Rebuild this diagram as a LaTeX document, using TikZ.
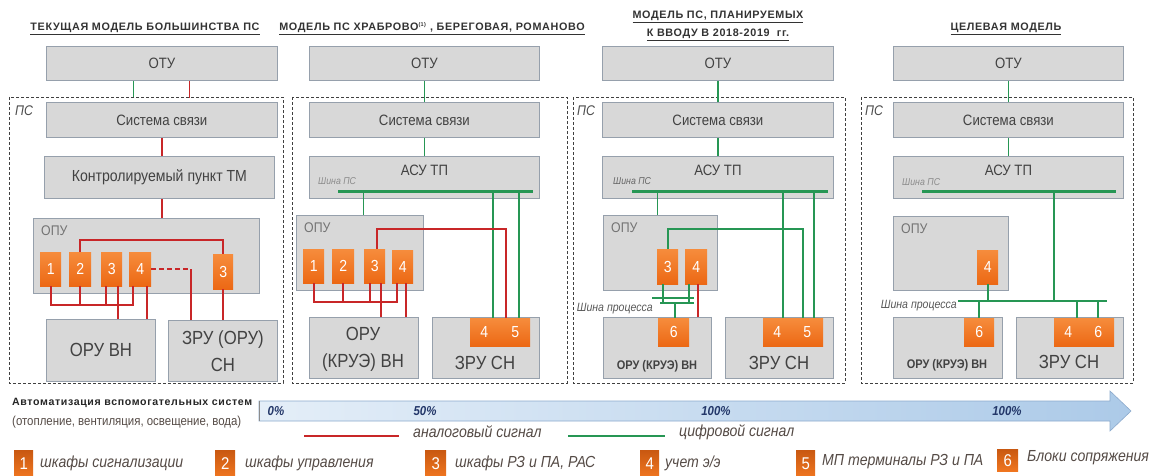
\documentclass[tikz,border=0pt]{standalone}
\usepackage{fontspec}
\setmainfont{Liberation Sans}
\newfontfamily\nar{Liberation Sans}[FakeStretch=0.88]
\newfontfamily\ttlf{Liberation Sans}[LetterSpace=6]
\definecolor{boxfill}{RGB}{216,216,216}
\definecolor{boxline}{RGB}{150,160,172}
\definecolor{txt}{RGB}{66,66,66}
\definecolor{org}{RGB}{240,118,32}
\definecolor{orgt}{RGB}{246,140,60}
\definecolor{orgb}{RGB}{236,104,20}
\definecolor{ana}{RGB}{200,38,40}
\definecolor{dig}{RGB}{38,150,84}
\definecolor{navy}{RGB}{35,55,105}
\definecolor{legtxt}{RGB}{85,75,70}
\definecolor{barL}{RGB}{228,238,248}
\definecolor{barR}{RGB}{172,202,232}
\definecolor{barD}{RGB}{140,170,205}
\begin{document}
\begin{tikzpicture}[x=1pt,y=-1pt,
  gbox/.style={draw=boxline, fill=boxfill, line width=0.8pt, inner sep=0pt, anchor=north west, text=txt, font=\nar\fontsize{15}{17}\selectfont},
  obox/.style={top color=orgt, bottom color=orgb, draw=none, inner sep=0pt, anchor=north west, text=white, font=\nar\fontsize{16}{16}\selectfont},
  anaw/.style={draw=ana, line width=1.8pt},
  digw/.style={draw=dig, line width=1.8pt},
  busw/.style={draw=dig, line width=3pt},
  frm/.style={draw=black!75, dash pattern=on 3pt off 2pt, line width=0.8pt},
  ttl/.style={font=\ttlf\bfseries\fontsize{10.8}{18}\selectfont, text=black!80, align=center},
  opul/.style={anchor=north west, text=black!55, font=\nar\fontsize{14}{14}\selectfont, inner sep=0pt},
  psl/.style={anchor=north west, text=black!70, font=\nar\itshape\fontsize{14}{14}\selectfont, inner sep=0pt},
  shl/.style={text=black!45, font=\nar\itshape\fontsize{10}{10}\selectfont, inner sep=0pt},
  shp/.style={text=black!65, font=\nar\itshape\fontsize{12}{12}\selectfont, inner sep=0pt},
  bigt/.style={text=txt, font=\nar\fontsize{19}{27}\selectfont, align=center, inner sep=0pt},
  smb/.style={text=txt, font=\nar\bfseries\fontsize{12.5}{13}\selectfont, inner sep=0pt},
  pct/.style={text=navy, font=\nar\bfseries\itshape\fontsize{13}{13}\selectfont, inner sep=0pt},
  lsq/.style={top color=orgb!85!black, bottom color=org, draw=none, inner sep=0pt, anchor=north west, text=white, font=\nar\fontsize{17}{17}\selectfont},
  ltxt/.style={anchor=west, text=legtxt, font=\nar\itshape\fontsize{16}{16}\selectfont, inner sep=0pt}
]
\useasboundingbox (0,0) rectangle (1153,476);
\fill[white] (0,0) rectangle (1153,476);

% ---------- titles
\node[ttl] (t1) at (145,29) {\underline{ТЕКУЩАЯ МОДЕЛЬ БОЛЬШИНСТВА ПС}};
\node[ttl] (t2) at (432,29) {\underline{МОДЕЛЬ ПС ХРАБРОВО\textsuperscript{\fontsize{5.5}{5.5}\selectfont(1)} , БЕРЕГОВАЯ, РОМАНОВО}};
\node[ttl] (t3) at (718,26) {\underline{МОДЕЛЬ ПС, ПЛАНИРУЕМЫХ}\\\underline{К ВВОДУ В 2018-2019 \ гг.}};
\node[ttl] (t4) at (1006,29) {\underline{ЦЕЛЕВАЯ МОДЕЛЬ}};

% ================= Panel 1
\draw[frm] (9,97) rectangle (283,383);
\node[psl] (p1ps) at (15,106) {ПС};
\node[gbox, minimum width=231pt, minimum height=34pt] (p1otu) at (46,46) {ОТУ};
\node[gbox, minimum width=231pt, minimum height=35pt] (p1ss) at (46,102) {Система связи};
\node[gbox, minimum width=230pt, minimum height=42pt, font=\nar\fontsize{16}{17}\selectfont] (p1kp) at (44,156) {Контролируемый пункт ТМ};
\node[gbox, minimum width=226pt, minimum height=75pt] (p1opu) at (33,218) {};
\node[opul] (p1opul) at (41,226) {ОПУ};
\node[obox, minimum width=21pt, minimum height=34pt] (p1o1) at (40,252) {1};
\node[obox, minimum width=22pt, minimum height=34pt] (p1o2) at (69,252) {2};
\node[obox, minimum width=21pt, minimum height=34pt] (p1o3) at (101,252) {3};
\node[obox, minimum width=22pt, minimum height=34pt] (p1o4) at (129,252) {4};
\node[obox, minimum width=20pt, minimum height=35pt] (p1o3b) at (213,254) {3};
\node[gbox, minimum width=109pt, minimum height=62pt, font=\nar\fontsize{19}{27}\selectfont] (p1oru) at (46,319) {ОРУ ВН};
\node[gbox, minimum width=109pt, minimum height=61pt, font=\nar\fontsize{19}{27}\selectfont, align=center] (p1zru) at (168,320) {ЗРУ (ОРУ)\\СН};
\coordinate (p1bus) at (0,305);
\coordinate (p1zd) at ([xshift=-32pt]p1zru.north);
\draw[digw] ([xshift=-28.5pt]p1otu.south) -- ++(0,16);
\draw[anaw] ([xshift=27.5pt]p1otu.south) -- ++(0,17);
\draw[anaw] (p1ss.south) -- (p1ss.south |- p1kp.north);
\draw[anaw] (p1ss.south |- p1kp.south) -- (p1ss.south |- p1opu.north);
\draw[anaw] (p1o2.north) -- ++(0,-12) -| (p1o3b.north);
\draw[anaw] (p1o1.south) -- (p1o1.south |- p1bus) -- ([xshift=-7pt]p1o4.south |- p1bus) -- ([xshift=-7pt]p1o4.south);
\draw[anaw] (p1o2.south) -- (p1o2.south |- p1bus);
\draw[anaw] ([xshift=-6pt]p1o3.south) -- ([xshift=-6pt]p1o3.south |- p1bus);
\draw[anaw] ([xshift=6pt]p1o3.south) -- ([xshift=6pt]p1o3.south |- p1oru.north);
\draw[anaw] ([xshift=7pt]p1o4.south) -- ([xshift=7pt]p1o4.south |- p1oru.north);
\draw[anaw, dash pattern=on 5pt off 3pt] (p1o4.east) -- (p1o4.east -| p1zd);
\draw[anaw] (p1o4.east -| p1zd) -- (p1zd);
\draw[anaw] (p1o3b.south) -- (p1o3b.south |- p1zru.north);

% ================= Panel 2
\draw[frm] (292,97) rectangle (567,383);
\node[gbox, minimum width=230pt, minimum height=34pt] (p2otu) at (309,46) {ОТУ};
\node[gbox, minimum width=230pt, minimum height=35pt] (p2ss) at (309,102) {Система связи};
\node[gbox, minimum width=230pt, minimum height=42pt] (p2asu) at (309,156) {};
\node[text=txt, font=\nar\fontsize{15}{17}\selectfont, inner sep=0pt] (p2asut) at ([yshift=-14pt]p2asu.north) {АСУ ТП};
\node[shl, anchor=west] (p2shl) at (318,181) {Шина ПС};
\coordinate (p2bl) at (338,191);
\coordinate (p2br) at (533,191);
\node[gbox, minimum width=127pt, minimum height=75pt] (p2opu) at (296,215) {};
\node[opul] (p2opul) at (304,223) {ОПУ};
\node[obox, minimum width=21pt, minimum height=34pt] (p2o1) at (303,249) {1};
\node[obox, minimum width=22pt, minimum height=34pt] (p2o2) at (332,249) {2};
\node[obox, minimum width=21pt, minimum height=34pt] (p2o3) at (364,249) {3};
\node[obox, minimum width=21pt, minimum height=33pt] (p2o4) at (392,250) {4};
\node[gbox, minimum width=109pt, minimum height=61pt] (p2oru) at (309,317) {};
\node[bigt] (p2orut) at (363,349) {ОРУ\\(КРУЭ) ВН};
\node[gbox, minimum width=107pt, minimum height=61pt] (p2zru) at (432,317) {};
\node[bigt] (p2zrut) at (485,363) {ЗРУ СН};
\node[obox, minimum width=60pt, minimum height=28pt] (p2o45) at (470,318) {};
\node[text=white, font=\nar\fontsize{16}{16}\selectfont] (p2o45a) at ([xshift=-16pt]p2o45.center) {4};
\node[text=white, font=\nar\fontsize{16}{16}\selectfont] (p2o45b) at ([xshift=15pt]p2o45.center) {5};
\draw[digw] (p2otu.south) -- (p2otu.south |- p2ss.north);
\draw[digw] (p2ss.south) -- (p2ss.south |- p2asu.north);
\draw[busw] (p2bl) -- (p2br);
\draw[digw] ([xshift=3.5pt]p2opu.north |- p2bl) -- ([xshift=3.5pt]p2opu.north);
\draw[digw] ([xshift=-7pt]p2o45.north |- p2bl) -- ([xshift=-7pt]p2o45.north);
\draw[digw] ([xshift=19pt]p2o45.north |- p2bl) -- ([xshift=19pt]p2o45.north);
\draw[anaw] ([xshift=2pt]p2o3.north) -- ++(0,-20) -| ([xshift=6pt]p2o45.north);
\coordinate (p2bus) at (0,302);
\draw[anaw] (p2o1.south) -- (p2o1.south |- p2bus) -- ([xshift=-5.5pt]p2o4.south |- p2bus) -- ([xshift=-5.5pt]p2o4.south);
\draw[anaw] (p2o2.south) -- (p2o2.south |- p2bus);
\draw[anaw] ([xshift=-4.5pt]p2o3.south) -- ([xshift=-4.5pt]p2o3.south |- p2bus);
\draw[anaw] ([xshift=6.5pt]p2o3.south) -- ([xshift=6.5pt]p2o3.south |- p2oru.north);
\draw[anaw] ([xshift=3.5pt]p2o4.south) -- ([xshift=3.5pt]p2o4.south |- p2oru.north);

% ================= Panel 3
\draw[frm] (573,97) rectangle (845,383);
\node[psl] (p3ps) at (577,106) {ПС};
\node[gbox, minimum width=231pt, minimum height=34pt] (p3otu) at (602,46) {ОТУ};
\node[gbox, minimum width=231pt, minimum height=35pt] (p3ss) at (602,102) {Система связи};
\node[gbox, minimum width=231pt, minimum height=42pt] (p3asu) at (602,156) {};
\node[text=txt, font=\nar\fontsize{15}{17}\selectfont, inner sep=0pt] (p3asut) at ([yshift=-14pt]p3asu.north) {АСУ ТП};
\node[shl, anchor=west, text=black!60] (p3shl) at (613,181) {Шина ПС};
\coordinate (p3bl) at (632,191);
\coordinate (p3br) at (828,191);
\node[gbox, minimum width=114pt, minimum height=75pt] (p3opu) at (603,215) {};
\node[opul] (p3opul) at (611,223) {ОПУ};
\node[obox, minimum width=21pt, minimum height=35pt] (p3o3) at (657,249) {3};
\node[obox, minimum width=22pt, minimum height=35pt] (p3o4) at (685,249) {4};
\node[gbox, minimum width=108pt, minimum height=61pt] (p3oru) at (603,317) {};
\node[smb] (p3orut) at (657,366) {ОРУ (КРУЭ) ВН};
\node[gbox, minimum width=108pt, minimum height=61pt] (p3zru) at (725,317) {};
\node[bigt] (p3zrut) at (779,363) {ЗРУ СН};
\node[obox, minimum width=31pt, minimum height=28pt] (p3o6) at (658,318) {6};
\node[obox, minimum width=60pt, minimum height=28pt] (p3o45) at (763,318) {};
\node[text=white, font=\nar\fontsize{16}{16}\selectfont] (p3o45a) at ([xshift=-16pt]p3o45.center) {4};
\node[text=white, font=\nar\fontsize{16}{16}\selectfont] (p3o45b) at ([xshift=14pt]p3o45.center) {5};
\node[shp, anchor=east] (p3shp) at (653,309) {Шина процесса};
\draw[digw] (p3otu.south) -- (p3otu.south |- p3ss.north);
\draw[digw] (p3ss.south) -- (p3ss.south |- p3asu.north);
\draw[busw] (p3bl) -- (p3br);
\draw[digw] ([xshift=-3pt]p3opu.north |- p3bl) -- ([xshift=-3pt]p3opu.north);
\draw[digw] ([xshift=-10pt]p3o45.north |- p3bl) -- ([xshift=-10pt]p3o45.north);
\draw[digw] ([xshift=21pt]p3o45.north |- p3bl) -- ([xshift=21pt]p3o45.north);
\draw[digw] (p3o3.north) -- ++(0,-20) -| ([xshift=10pt]p3o45.north);
\coordinate (p3pb) at (0,298);
\coordinate (p3pb2) at (0,303);
\draw[digw] (652,298) -- (694,298);
\draw[digw] (660,303) -- (694,303);
\draw[digw] ([xshift=-4.5pt]p3o3.south) -- ([xshift=-4.5pt]p3o3.south |- p3pb2);
\draw[digw] ([xshift=-7pt]p3o4.south) -- ([xshift=-7pt]p3o4.south |- p3pb2);
\draw[digw] ([xshift=1.5pt]p3o6.north |- p3pb2) -- ([xshift=1.5pt]p3o6.north);
\draw[anaw] ([xshift=2pt]p3o4.south) -- ([xshift=2pt]p3o4.south |- p3oru.north);

% ================= Panel 4
\draw[frm] (861,97) rectangle (1133,383);
\node[psl] (p4ps) at (865,106) {ПС};
\node[gbox, minimum width=230pt, minimum height=34pt] (p4otu) at (893,46) {ОТУ};
\node[gbox, minimum width=230pt, minimum height=35pt] (p4ss) at (893,102) {Система связи};
\node[gbox, minimum width=230pt, minimum height=42pt] (p4asu) at (893,156) {};
\node[text=txt, font=\nar\fontsize{15}{17}\selectfont, inner sep=0pt] (p4asut) at ([yshift=-14pt]p4asu.north) {АСУ ТП};
\node[shl, anchor=west] (p4shl) at (902,182) {Шина ПС};
\coordinate (p4bl) at (922,191);
\coordinate (p4br) at (1116,191);
\node[gbox, minimum width=115pt, minimum height=74pt] (p4opu) at (893,216) {};
\node[opul] (p4opul) at (901,224) {ОПУ};
\node[obox, minimum width=21pt, minimum height=34pt] (p4o4) at (977,250) {4};
\node[gbox, minimum width=109pt, minimum height=61pt] (p4oru) at (893,317) {};
\node[smb] (p4orut) at (947,365) {ОРУ (КРУЭ) ВН};
\node[gbox, minimum width=107pt, minimum height=61pt] (p4zru) at (1016,317) {};
\node[bigt] (p4zrut) at (1069,362) {ЗРУ СН};
\node[obox, minimum width=30pt, minimum height=28pt] (p4o6) at (964,318) {6};
\node[obox, minimum width=60pt, minimum height=28pt] (p4o46) at (1054,318) {};
\node[text=white, font=\nar\fontsize{16}{16}\selectfont] (p4o46a) at ([xshift=-16pt]p4o46.center) {4};
\node[text=white, font=\nar\fontsize{16}{16}\selectfont] (p4o46b) at ([xshift=14pt]p4o46.center) {6};
\coordinate (p4pl) at (958,301);
\coordinate (p4pr) at (1107,301);
\node[shp, anchor=east] (p4shp) at (957,306) {Шина процесса};
\draw[digw] (p4otu.south) -- (p4otu.south |- p4ss.north);
\draw[digw] (p4ss.south) -- (p4ss.south |- p4asu.north);
\draw[busw] (p4bl) -- (p4br);
\draw[digw, line width=2.4pt] (p4pl) -- (p4pr);
\draw[digw] (1054,191) -- (1054,301);
\draw[digw] (p4o4.south) -- (p4o4.south |- p4pl);
\draw[digw] (p4o6.north |- p4pl) -- (p4o6.north);
\draw[digw] ([xshift=-7pt]p4o46.north |- p4pl) -- ([xshift=-7pt]p4o46.north);
\draw[digw] ([xshift=14pt]p4o46.north |- p4pl) -- ([xshift=14pt]p4o46.north);

% ================= automation bar
\node[anchor=west, inner sep=0pt, text=black!85, font=\ttlf\bfseries\fontsize{10.6}{11}\selectfont] (autl) at (12,403) {Автоматизация вспомогательных систем};
\node[anchor=west, inner sep=0pt, text=legtxt, font=\nar\fontsize{13}{13}\selectfont] (auts) at (12,422) {(отопление, вентиляция, освещение, вода)};
\shade[left color=barL, right color=barR, draw=barD, line width=0.6pt]
  (259,401) -- (1110,401) -- (1110,391) -- (1131,411) -- (1110,431) -- (1110,421) -- (259,421) -- cycle;
\draw[black!45, line width=1pt] (259,401) -- (259,421);
\node[pct] (pc0) at (276,411) {0\%};
\node[pct] (pc50) at (425,411) {50\%};
\node[pct] (pc100a) at (716,411) {100\%};
\node[pct] (pc100b) at (1007,411) {100\%};

% ================= legend lines
\coordinate (la1) at (304,436);
\coordinate (la2) at (399,436);
\coordinate (ld1) at (568,436);
\coordinate (ld2) at (665,436);
\draw[anaw, line width=2pt] (la1) -- (la2);
\draw[digw, line width=2pt] (ld1) -- (ld2);
\node[ltxt] (lat) at (413,432) {аналоговый сигнал};
\node[ltxt] (ldt) at (679,432) {цифровой сигнал};

% ================= legend items
\node[lsq, minimum width=19pt, minimum height=27pt] (l1) at (14,450) {1};
\node[ltxt] (l1t) at (40,463) {шкафы сигнализации};
\node[lsq, minimum width=20pt, minimum height=27pt] (l2) at (215,450) {2};
\node[ltxt] (l2t) at (245,463) {шкафы управления};
\node[lsq, minimum width=21pt, minimum height=27pt] (l3) at (425,450) {3};
\node[ltxt] (l3t) at (455,463) {шкафы РЗ и ПА, РАС};
\node[lsq, minimum width=19pt, minimum height=27pt] (l4) at (640,450) {4};
\node[ltxt] (l4t) at (665,463) {учет э/э};
\node[lsq, minimum width=19pt, minimum height=27pt] (l5) at (796,450) {5};
\node[ltxt] (l5t) at (822,462) {МП терминалы РЗ и ПА};
\node[lsq, minimum width=21pt, minimum height=22pt] (l6) at (997,449) {6};
\node[ltxt] (l6t) at (1027,458) {Блоки сопряжения};
\end{tikzpicture}
\end{document}
